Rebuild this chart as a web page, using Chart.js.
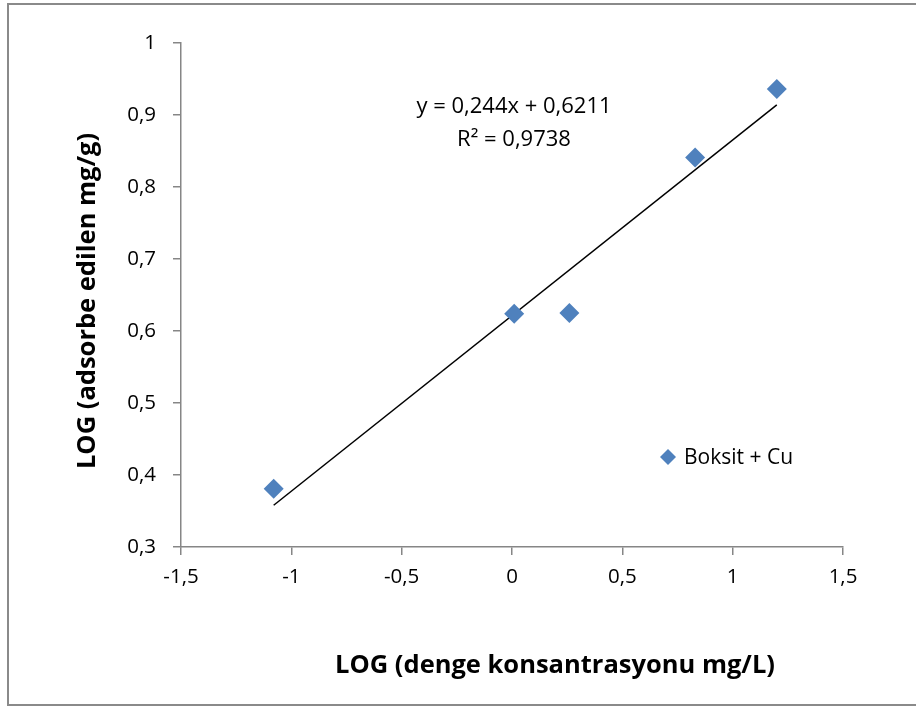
<!DOCTYPE html>
<html>
<head>
<meta charset="utf-8">
<script src="https://cdn.jsdelivr.net/npm/chart.js@4"></script>
<style>
  body { margin: 0; background: #fff; }
  #kutu { position: relative; width: 916px; height: 708px; overflow: hidden; }
  #cerceve { position: absolute; left: 7px; top: 3px; width: 930px; height: 703px; border: 2px solid #8a8a8a; box-sizing: border-box; }
  canvas { position: absolute; left: 0; top: 0; }
</style>
</head>
<body>
<div id="kutu">
  <div id="cerceve"></div>
  <canvas id="grafik" width="916" height="708"></canvas>
</div>
<script>
// --- veriler ---
const logC = [-1.08, 0.01, 0.26, 0.83, 1.2];       // LOG (denge konsantrasyonu)
const logQ = [0.381, 0.624, 0.625, 0.841, 0.936];   // LOG (adsorbe edilen)
const trendX = [-1.08, 1.2];
const trendY = [0.358, 0.914];
const seriAdi = 'Boksit + Cu';
const denklem = 'y = 0,244x + 0,6211';
const rKare = 'R² = 0,9738';
const xBaslik = 'LOG (denge konsantrasyonu mg/L)';
const yBaslik = 'LOG (adsorbe edilen mg/g)';

const mavi = '#4f81bd';
const gri = '#868686';
const yazi = "'Open Sans', 'Lato', sans-serif";

function virgul(v) {
  return String(Number(v.toFixed(1))).replace('.', ',');
}

// yaziyi istenen genislige sigdir (boyut ust sinirli)
function sigdir(c, metin, kalinlik, genislik, enBuyuk) {
  c.font = kalinlik + ' 20px ' + yazi;
  const olcu = c.measureText(metin).width;
  const boyut = Math.min(enBuyuk, 20 * genislik / olcu);
  c.font = kalinlik + ' ' + boyut.toFixed(1) + 'px ' + yazi;
}

// eksen basliklari, denklem ve lejant
const yaziEklentisi = {
  id: 'yazilar',
  afterDraw(chart) {
    const c = chart.ctx;
    c.save();
    c.fillStyle = '#000';
    c.textAlign = 'center';
    c.textBaseline = 'middle';
    sigdir(c, denklem, 'normal', 206, 22);
    c.fillText(denklem, 514, 107);
    c.fillText(rKare, 514, 140);

    sigdir(c, xBaslik, 'bold', 456, 25.5);
    c.fillText(xBaslik, 555, 666);
    sigdir(c, yBaslik, 'bold', 418, 25.5);
    c.translate(88, 301);
    c.rotate(-Math.PI / 2);
    c.fillText(yBaslik, 0, 0);
    c.restore();

    // lejant
    c.save();
    c.fillStyle = mavi;
    c.beginPath();
    c.moveTo(668, 449); c.lineTo(676, 457); c.lineTo(668, 465); c.lineTo(660, 457);
    c.closePath();
    c.fill();
    c.fillStyle = '#000';
    sigdir(c, seriAdi, 'normal', 117, 21);
    c.textAlign = 'left';
    c.textBaseline = 'middle';
    c.fillText(seriAdi, 684, 458);
    c.restore();
  }
};

new Chart(document.getElementById('grafik'), {
  type: 'scatter',
  data: {
    datasets: [
      {
        label: seriAdi,
        data: logC.map((x, i) => ({ x: x, y: logQ[i] })),
        pointStyle: 'rectRot',
        pointRadius: 10,
        pointHoverRadius: 10,
        backgroundColor: mavi,
        borderColor: mavi,
        borderWidth: 0,
        order: 1
      },
      {
        type: 'line',
        label: 'trend',
        data: trendX.map((x, i) => ({ x: x, y: trendY[i] })),
        borderColor: '#000',
        borderWidth: 1.5,
        pointRadius: 0,
        fill: false,
        order: 2
      }
    ]
  },
  options: {
    responsive: false,
    animation: false,
    layout: { padding: { top: 43, right: 73, left: 0, bottom: 0 } },
    plugins: { legend: { display: false }, tooltip: { enabled: false } },
    scales: {
      x: {
        type: 'linear',
        min: -1.5, max: 1.5,
        afterFit(s) { s.height = 161; },
        ticks: { stepSize: 0.5, color: '#000', padding: 10, font: { family: yazi, size: 20.5 }, callback: virgul },
        grid: { drawOnChartArea: false, tickLength: 8, color: gri, lineWidth: 1.5 },
        border: { color: gri, width: 1.5 }
      },
      y: {
        min: 0.3, max: 1,
        afterFit(s) { s.width = 181; },
        ticks: { stepSize: 0.1, color: '#000', padding: 17, font: { family: yazi, size: 20.5 }, callback: virgul },
        grid: { drawOnChartArea: false, tickLength: 8, color: gri, lineWidth: 1.5 },
        border: { color: gri, width: 1.5 }
      }
    }
  },
  plugins: [yaziEklentisi]
});
</script>
</body>
</html>
